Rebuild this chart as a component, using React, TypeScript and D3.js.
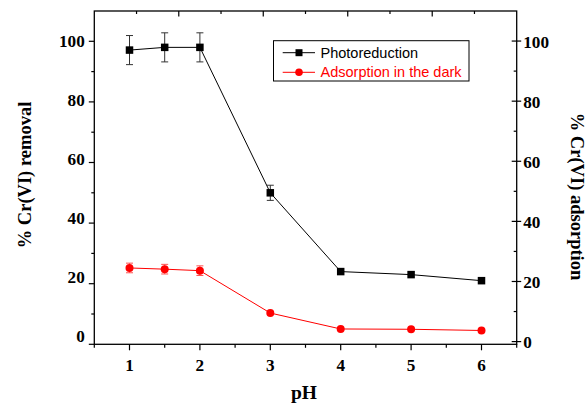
import React from "react";
import * as d3 from "d3";

// pH values of the experiments
const phValues = [1, 1.5, 2, 3, 4, 5, 6];
// % Cr(VI) removal by photoreduction, with standard deviations
const photoreduction = [97.1, 98.0, 98.0, 50.0, 24.0, 23.0, 21.0];
const photoreductionErr = [4.8, 4.8, 4.8, 2.5, 0, 0, 0];
// % Cr(VI) adsorption in the dark, with standard deviations
const adsorption = [24.5, 24.1, 23.6, 9.5, 4.2, 4.1, 3.7];
const adsorptionErr = [1.6, 1.6, 1.6, 0, 0, 0, 0];

const xTickValues = [1, 2, 3, 4, 5, 6];
const yTickValues = [0, 20, 40, 60, 80, 100];
const seriesNames = ["Photoreduction", "Adsorption in the dark"];

const W = 588;
const H = 403;
const left = 94.3;
const right = 516.7;
const top = 11;
const bottom = 344.3;

export default function App() {
  const x = d3.scaleLinear().domain([0.5, 6.5]).range([left, right]);
  const yL = d3.scaleLinear().domain([0, 110]).range([bottom, top]);
  const yR = d3.scaleLinear().domain([-0.9, 110]).range([bottom, top]);
  const xTop = d3.scaleLinear().domain([0, 10]).range([left, right]);
  // baselines of the left tick labels
  const yLabelL = d3.scaleLinear().domain([0, 100]).range([341.7, 47.3]);

  const lineL = d3
    .line<number>()
    .x((_, i) => x(phValues[i]))
    .y((d) => yL(d));
  const lineR = d3
    .line<number>()
    .x((_, i) => x(phValues[i]))
    .y((d) => yR(d));

  const serif = "'Liberation Serif', 'Times New Roman', serif";
  const sans = "'Liberation Sans', Arial, sans-serif";

  const minorX = d3.range(0.5, 6.51, 1);
  const minorY = d3.range(10, 100, 20);
  const topTicks = d3.range(1, 10);

  const sq = 7.5;
  const tickFont = 17.2;

  return (
    <svg
      width={W}
      height={H}
      style={{ position: "absolute", left: 0, top: 0, background: "#fff" }}
    >
      {/* frame */}
      <rect
        x={left}
        y={top}
        width={right - left}
        height={bottom - top}
        fill="none"
        stroke="#000"
        strokeWidth={1.3}
      />

      {/* bottom axis ticks */}
      {xTickValues.map((v) => (
        <g key={"xb" + v}>
          <line x1={x(v)} x2={x(v)} y1={bottom} y2={bottom + 6} stroke="#000" strokeWidth={1.2} />
          <text
            x={x(v)}
            y={bottom + 26.5}
            textAnchor="middle"
            fontFamily={serif}
            fontWeight="bold"
            fontSize={tickFont}
          >
            {v}
          </text>
        </g>
      ))}
      {minorX.map((v) => (
        <line key={"xm" + v} x1={x(v)} x2={x(v)} y1={bottom} y2={bottom + 3.5} stroke="#000" strokeWidth={1.2} />
      ))}

      {/* top axis ticks (inward) */}
      {topTicks.map((v) => (
        <line
          key={"xt" + v}
          x1={xTop(v)}
          x2={xTop(v)}
          y1={top}
          y2={top + (v % 2 === 0 ? 5.5 : 3)}
          stroke="#000"
          strokeWidth={1.2}
        />
      ))}

      {/* left axis */}
      {yTickValues.map((v) => (
        <g key={"yl" + v}>
          <line x1={left - 5.5} x2={left} y1={yL(v)} y2={yL(v)} stroke="#000" strokeWidth={1.2} />
          <text
            x={left - 9.5}
            y={yLabelL(v)}
            textAnchor="end"
            fontFamily={serif}
            fontWeight="bold"
            fontSize={tickFont}
          >
            {v}
          </text>
        </g>
      ))}
      {minorY.map((v) => (
        <line key={"ylm" + v} x1={left - 3} x2={left} y1={yL(v)} y2={yL(v)} stroke="#000" strokeWidth={1.2} />
      ))}

      {/* right axis */}
      {yTickValues.map((v) => (
        <g key={"yr" + v}>
          <line x1={right - 5} x2={right + 4.5} y1={yR(v)} y2={yR(v)} stroke="#000" strokeWidth={1.2} />
          <text
            x={right + 6.5}
            y={yR(v) + 6.5}
            textAnchor="start"
            fontFamily={serif}
            fontWeight="bold"
            fontSize={tickFont}
          >
            {v}
          </text>
        </g>
      ))}
      {minorY.map((v) => (
        <line key={"yrm" + v} x1={right - 3} x2={right} y1={yR(v)} y2={yR(v)} stroke="#000" strokeWidth={1.2} />
      ))}

      {/* axis titles */}
      <text
        x={304}
        y={399}
        textAnchor="middle"
        fontFamily={serif}
        fontWeight="bold"
        fontSize={19.5}
      >
        pH
      </text>
      <text
        transform={`translate(31,175) rotate(-90)`}
        textAnchor="middle"
        fontFamily={serif}
        fontWeight="bold"
        fontSize={18.5}
      >
        % Cr(VI) removal
      </text>
      <text
        transform={`translate(571,196.5) rotate(90)`}
        textAnchor="middle"
        fontFamily={serif}
        fontWeight="bold"
        fontSize={18.5}
      >
        % Cr(VI) adsorption
      </text>

      {/* adsorption series */}
      <path d={lineR(adsorption) || ""} fill="none" stroke="#ff0000" strokeWidth={1} />
      {adsorption.map((v, i) =>
        adsorptionErr[i] > 0 ? (
          <g key={"ae" + i} stroke="#ff5050" strokeWidth={1}>
            <line x1={x(phValues[i])} x2={x(phValues[i])} y1={yR(v - adsorptionErr[i])} y2={yR(v + adsorptionErr[i])} />
            <line x1={x(phValues[i]) - 3.5} x2={x(phValues[i]) + 3.5} y1={yR(v - adsorptionErr[i])} y2={yR(v - adsorptionErr[i])} />
            <line x1={x(phValues[i]) - 3.5} x2={x(phValues[i]) + 3.5} y1={yR(v + adsorptionErr[i])} y2={yR(v + adsorptionErr[i])} />
          </g>
        ) : null
      )}
      {adsorption.map((v, i) => (
        <circle key={"ac" + i} cx={x(phValues[i])} cy={yR(v)} r={4} fill="#ff0000" />
      ))}

      {/* photoreduction series */}
      <path d={lineL(photoreduction) || ""} fill="none" stroke="#000" strokeWidth={1} />
      {photoreduction.map((v, i) =>
        photoreductionErr[i] > 0 ? (
          <g key={"pe" + i} stroke="#333" strokeWidth={1}>
            <line x1={x(phValues[i])} x2={x(phValues[i])} y1={yL(v - photoreductionErr[i])} y2={yL(v + photoreductionErr[i])} />
            <line x1={x(phValues[i]) - 3.5} x2={x(phValues[i]) + 3.5} y1={yL(v - photoreductionErr[i])} y2={yL(v - photoreductionErr[i])} />
            <line x1={x(phValues[i]) - 3.5} x2={x(phValues[i]) + 3.5} y1={yL(v + photoreductionErr[i])} y2={yL(v + photoreductionErr[i])} />
          </g>
        ) : null
      )}
      {photoreduction.map((v, i) => (
        <rect key={"ps" + i} x={x(phValues[i]) - sq / 2} y={yL(v) - sq / 2} width={sq} height={sq} fill="#000" />
      ))}

      {/* legend */}
      <g>
        <rect x={273.5} y={40.7} width={195.5} height={40.3} fill="#fff" stroke="#000" strokeWidth={1} />
        <line x1={282.7} x2={315} y1={52.7} y2={52.7} stroke="#000" strokeWidth={1} />
        <rect x={299 - 3.5} y={52.7 - 3.5} width={7} height={7} fill="#000" />
        <text x={320.5} y={57.7} fontFamily={sans} fontSize={14.5} fill="#000">
          {seriesNames[0]}
        </text>
        <line x1={282.7} x2={315} y1={72.3} y2={72.3} stroke="#ff0000" strokeWidth={1} />
        <circle cx={299} cy={72.3} r={3.8} fill="#ff0000" />
        <text x={320.5} y={77.3} fontFamily={sans} fontSize={14.5} fill="#ff0000">
          {seriesNames[1]}
        </text>
      </g>
    </svg>
  );
}
